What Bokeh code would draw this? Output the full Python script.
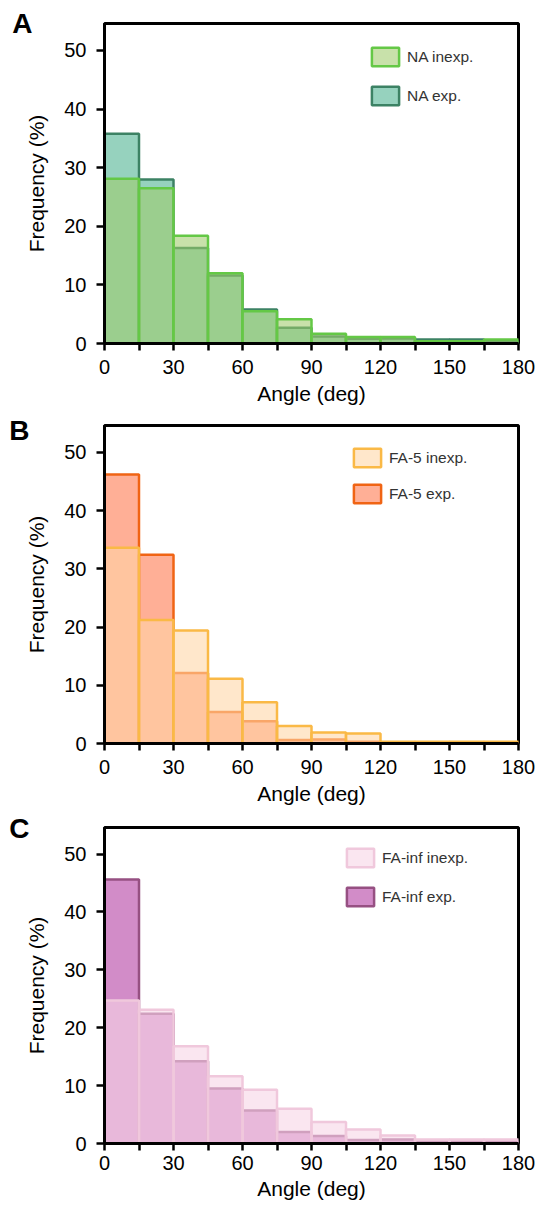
from bokeh.plotting import figure
from bokeh.models import Range1d, FixedTicker, Legend, LegendItem, LinearAxis
from bokeh.layouts import column
from bokeh.embed import file_html
from bokeh.resources import INLINE

# ---- data ----
bin_edges = [0, 15, 30, 45, 60, 75, 90, 105, 120, 135, 150, 165, 180]
x_major_ticks = [0, 30, 60, 90, 120, 150, 180]
x_minor_ticks = [15, 45, 75, 105, 135, 165]
y_ticks = [0, 10, 20, 30, 40, 50]

na_inexp = [28.1, 26.5, 18.4, 12.0, 5.5, 4.15, 1.65, 1.1, 1.1, 0.4, 0.4, 0.7]
na_exp = [35.8, 28.0, 16.3, 11.6, 5.8, 2.7, 1.2, 0.8, 0.85, 0.7, 0.7, 0.4]

fa5_inexp = [33.6, 21.2, 19.4, 11.1, 7.1, 3.0, 1.9, 1.7, 0.3, 0.3, 0.3, 0.3]
fa5_exp = [46.2, 32.4, 12.1, 5.4, 3.8, 0.6, 0.7, 0.3, 0.1, 0.1, 0.1, 0.1]

fainf_inexp = [24.7, 23.1, 16.8, 11.6, 9.3, 6.0, 3.7, 2.4, 1.4, 0.7, 0.7, 0.7]
fainf_exp = [45.6, 22.4, 14.2, 9.5, 5.7, 2.0, 1.3, 0.6, 0.7, 0.3, 0.3, 0.3]

labels_A = ["NA inexp.", "NA exp."]
labels_B = ["FA-5 inexp.", "FA-5 exp."]
labels_C = ["FA-inf inexp.", "FA-inf exp."]

FONT = "Liberation Sans"
FRAME_W = 414
Y_MAX = 54.6


def make_panel(letter, inexp, exp, labels, cols, top_b, frame_h, bot_b,
               leg_xy, leg_spacing, tick_standoff, als, letter_standoff):
    p = figure(frame_width=FRAME_W, frame_height=frame_h,
               min_border_left=104, min_border_right=21,
               min_border_top=top_b, min_border_bottom=bot_b,
               x_range=Range1d(0, 180), y_range=Range1d(0, Y_MAX),
               output_backend="svg", toolbar_location=None,
               background_fill_color="white", border_fill_color="white")
    p.grid.visible = False
    p.outline_line_color = "black"
    p.outline_line_width = 3
    p.outline_line_alpha = 1

    left = bin_edges[:-1]
    right = bin_edges[1:]
    bottom = [0] * len(left)
    r_exp = p.quad(left=left, right=right, bottom=bottom, top=exp,
                   fill_color=cols["exp_fill"], fill_alpha=1.0,
                   line_color=cols["exp_line"], line_width=2.5)
    r_in = p.quad(left=left, right=right, bottom=bottom, top=inexp,
                  fill_color=cols["in_fill"], fill_alpha=cols["in_alpha"],
                  line_color=cols["in_line"], line_width=2.5)

    # axes
    xa = p.xaxis[0]
    xa.ticker = FixedTicker(ticks=x_major_ticks, minor_ticks=x_minor_ticks)
    ya = p.yaxis[0]
    ya.ticker = FixedTicker(ticks=y_ticks, minor_ticks=[])
    for ax in (xa, ya):
        ax.axis_line_color = "black"
        ax.axis_line_width = 3
        ax.major_tick_line_color = "black"
        ax.major_tick_line_width = 2.5
        ax.minor_tick_line_color = "black"
        ax.minor_tick_line_width = 2.5
        ax.major_tick_in = 0
        ax.minor_tick_in = 0
        ax.major_label_text_font = FONT
        ax.major_label_text_font_size = "20px"
        ax.major_label_text_color = "black"
        ax.axis_label_text_font = FONT
        ax.axis_label_text_font_size = "21px"
        ax.axis_label_text_font_style = "normal"
        ax.axis_label_text_color = "black"
    xa.major_tick_out = 7
    xa.minor_tick_out = 7
    xa.major_label_standoff = tick_standoff
    xa.axis_label = "Angle (deg)"
    xa.axis_label_standoff = als
    ya.major_tick_out = 8
    ya.minor_tick_out = 0
    ya.major_label_standoff = 10
    ya.axis_label = "Frequency (%)"
    ya.axis_label_standoff = 13

    # panel letter: an extra (invisible) left axis whose only tick label is the letter
    la = LinearAxis(ticker=FixedTicker(ticks=[Y_MAX], minor_ticks=[]),
                    major_label_overrides={Y_MAX: letter},
                    axis_line_color=None, major_tick_line_color=None,
                    minor_tick_line_color=None, major_tick_out=0,
                    major_tick_in=0, minor_tick_out=0, minor_tick_in=0,
                    major_label_standoff=letter_standoff,
                    major_label_text_font=FONT,
                    major_label_text_font_size="28px",
                    major_label_text_font_style="bold",
                    major_label_text_color="black")
    p.add_layout(la, "left")

    legend = Legend(items=[LegendItem(label=labels[0], renderers=[r_in]),
                           LegendItem(label=labels[1], renderers=[r_exp])],
                    location=leg_xy, orientation="vertical",
                    glyph_width=34, glyph_height=23, label_height=23,
                    label_width=20, spacing=leg_spacing, label_standoff=5,
                    padding=0, margin=0, border_line_alpha=0,
                    background_fill_alpha=0,
                    label_text_font=FONT, label_text_font_size="15.5px",
                    label_text_color="#333333")
    p.add_layout(legend)
    return p


cols_A = dict(exp_fill="#96D2BE", exp_line="#3C8264",
              in_fill="#9ECA6A", in_alpha=0.57, in_line="#64C846")
cols_B = dict(exp_fill="#FFAF96", exp_line="#F06414",
              in_fill="#FFD5A5", in_alpha=0.58, in_line="#FAB946")
cols_C = dict(exp_fill="#D28CC8", exp_line="#965082",
              in_fill="#F7D5E6", in_alpha=0.6, in_line="#F0C8DC")

pA = make_panel("A", na_inexp, na_exp, labels_A, cols_A, 23, 320, 69,
                (264, 236), 16, 9, 5, -10)
pB = make_panel("B", fa5_inexp, fa5_exp, labels_B, cols_B, 13, 318, 69,
                (246, 238), 13, 9, 5, -7)
pC = make_panel("C", fainf_inexp, fainf_exp, labels_C, cols_C, 15, 316, 64,
                (239, 235), 16, 5, 4, -7)

layout = column(pA, pB, pC, spacing=0)
open("out.html", "w").write(file_html(layout, INLINE))
